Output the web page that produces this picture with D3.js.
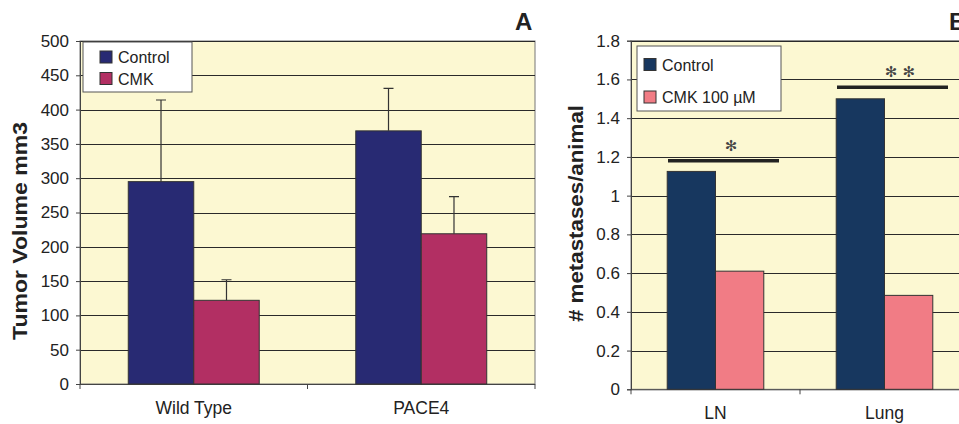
<!DOCTYPE html>
<html>
<head>
<meta charset="utf-8">
<script src="https://cdn.jsdelivr.net/npm/d3@7"></script>
<style>
  body { margin: 0; background: #fff; }
  svg { display: block; font-family: "Liberation Sans", Arial, sans-serif; }
</style>
</head>
<body>
<div id="canvas"></div>
<script>
// panel A data
const groupsA = ["Wild Type", "PACE4"]
const seriesA = ["Control", "CMK"]
const controlA = [295, 369]
const controlErrA = [119, 62]
const cmkA = [122, 219]
const cmkErrA = [30, 54]
const ticksA = [0, 50, 100, 150, 200, 250, 300, 350, 400, 450, 500]

// panel B data
const groupsB = ["LN", "Lung"]
const seriesB = ["Control", "CMK 100 µM"]
const controlB = [1.125, 1.5]
const cmkB = [0.61, 0.485]
const ticksB = [0, 0.2, 0.4, 0.6, 0.8, 1, 1.2, 1.4, 1.6, 1.8]
const sigLevel = [1.18, 1.56]
const sigStars = ["✻", "✻ ✻"]

const svg = d3.select("#canvas").append("svg").attr("width", 959).attr("height", 424)

const bg = "#fcf8d2"
const grid = "#2a2a2a"

function panel(opt) {
  const g = svg.append("g")
  const y = d3.scaleLinear().domain(opt.domain).range([opt.bottom, opt.top])
  const x = d3.scaleBand().domain(opt.groups).range([opt.left, opt.right])
  const xs = d3.scaleBand().domain(opt.series).range([0, x.bandwidth()]).paddingOuter(opt.pad)

  // plot background
  g.append("rect").attr("x", opt.left).attr("y", opt.top)
    .attr("width", opt.right - opt.left).attr("height", opt.bottom - opt.top)
    .attr("fill", bg).attr("stroke", "#777").attr("stroke-width", 1)

  // gridlines
  g.selectAll(".grid").data(opt.ticks.filter(d => d > 0)).enter().append("line")
    .attr("x1", opt.left).attr("x2", opt.right)
    .attr("y1", d => Math.round(y(d)) + 0.5).attr("y2", d => Math.round(y(d)) + 0.5)
    .attr("stroke", grid).attr("stroke-width", 1)

  // y axis
  const ya = g.append("g").attr("transform", `translate(${opt.left},0)`)
    .call(d3.axisLeft(y).tickValues(opt.ticks).tickSize(4).tickPadding(7).tickFormat(opt.fmt))
  ya.select(".domain").attr("stroke", "#444")
  ya.selectAll(".tick line").attr("stroke", "#444")
  ya.selectAll("text").attr("font-size", 17).attr("fill", "#222").attr("font-family", "Liberation Sans, Arial")

  // x axis
  const bounds = opt.groups.map(d => x(d)).concat([opt.right])
  g.append("line").attr("x1", opt.left).attr("x2", opt.right)
    .attr("y1", opt.bottom + 0.5).attr("y2", opt.bottom + 0.5).attr("stroke", "#444")
  g.selectAll(".xt").data(bounds).enter().append("line")
    .attr("x1", d => d).attr("x2", d => d).attr("y1", opt.bottom).attr("y2", opt.bottom + 5)
    .attr("stroke", "#444")
  g.selectAll(".xl").data(opt.groups).enter().append("text")
    .attr("x", d => x(d) + x.bandwidth() / 2).attr("y", opt.bottom + 30)
    .attr("text-anchor", "middle").attr("font-size", 17.5).attr("fill", "#222").text(d => d)

  // bars
  opt.values.forEach((vals, si) => {
    g.selectAll(".bar" + si).data(vals).enter().append("rect")
      .attr("x", (d, i) => x(opt.groups[i]) + xs(opt.series[si]))
      .attr("y", d => y(d))
      .attr("width", xs.bandwidth())
      .attr("height", d => y(0) - y(d))
      .attr("fill", opt.colors[si]).attr("stroke", "#333").attr("stroke-width", 1)
  })

  // error bars (upper only)
  if (opt.errors) {
    opt.errors.forEach((errs, si) => {
      const cx = i => x(opt.groups[i]) + xs(opt.series[si]) + xs.bandwidth() / 2
      g.selectAll(".err" + si).data(errs).enter().append("path")
        .attr("d", (d, i) => `M${cx(i)},${y(opt.values[si][i])}V${y(opt.values[si][i] + d)}M${cx(i) - 5},${y(opt.values[si][i] + d)}H${cx(i) + 5}`)
        .attr("stroke", "#333").attr("stroke-width", 1.2).attr("fill", "none")
    })
  }

  // y title
  g.append("text").attr("transform", `translate(${opt.titleX},${opt.titleY}) rotate(-90)`)
    .attr("text-anchor", "middle").attr("font-size", 20).attr("font-weight", "bold")
    .attr("fill", "#222").attr("textLength", opt.titleLen).attr("lengthAdjust", "spacingAndGlyphs")
    .text(opt.title)

  // panel letter
  g.append("text").attr("x", opt.letterX).attr("y", 30).attr("font-size", 24)
    .attr("font-weight", "bold").attr("fill", "#222").text(opt.letter)

  // legend
  const lg = g.append("g").attr("transform", `translate(${opt.legend[0]},${opt.legend[1]})`)
  lg.append("rect").attr("width", opt.legend[2]).attr("height", opt.legend[3])
    .attr("fill", "#fff").attr("stroke", "#555")
  opt.series.forEach((s, i) => {
    lg.append("rect").attr("x", opt.legend[4]).attr("y", opt.legend[5] + i * opt.legend[6])
      .attr("width", 12).attr("height", 12).attr("fill", opt.colors[i]).attr("stroke", "#333")
    lg.append("text").attr("x", opt.legend[4] + 18).attr("y", opt.legend[5] + i * opt.legend[6] + 12)
      .attr("font-size", 16).attr("fill", "#222").text(s)
  })

  return { g, x, y }
}

panel({
  groups: groupsA, series: seriesA, values: [controlA, cmkA], errors: [controlErrA, cmkErrA],
  colors: ["#282a73", "#b22f63"], domain: [0, 500], ticks: ticksA, fmt: d3.format("d"),
  left: 80, right: 535, top: 41, bottom: 384, pad: 0.737,
  title: "Tumor Volume mm3", titleX: 27, titleY: 231, titleLen: 218,
  letter: "A", letterX: 515, legend: [83, 42, 109, 50, 17, 9, 21.5]
})

const pB = panel({
  groups: groupsB, series: seriesB, values: [controlB, cmkB],
  colors: ["#17375f", "#f17c85"], domain: [0, 1.8], ticks: ticksB, fmt: d => String(+d.toFixed(1)),
  left: 631, right: 969, top: 40.7, bottom: 389.3, pad: 0.75,
  title: "# metastases/animal", titleX: 583, titleY: 213.5, titleLen: 217,
  letter: "B", letterX: 949, legend: [637, 46, 144, 65, 7, 12.5, 32.5]
})

// significance bars
pB.g.selectAll(".sig").data(sigLevel).enter().append("line")
  .attr("x1", (d, i) => pB.x(groupsB[i]) + 37).attr("x2", (d, i) => pB.x(groupsB[i]) + 148)
  .attr("y1", d => pB.y(d)).attr("y2", d => pB.y(d))
  .attr("stroke", "#222").attr("stroke-width", 3.5)
pB.g.selectAll(".star").data(sigStars).enter().append("text")
  .attr("x", (d, i) => pB.x(groupsB[i]) + 100)
  .attr("y", (d, i) => pB.y(sigLevel[i]) - 10)
  .attr("text-anchor", "middle").attr("font-size", 15).attr("font-weight", "bold")
  .attr("font-family", "DejaVu Sans")
  .attr("fill", "#444").text(d => d)
</script>
</body>
</html>
